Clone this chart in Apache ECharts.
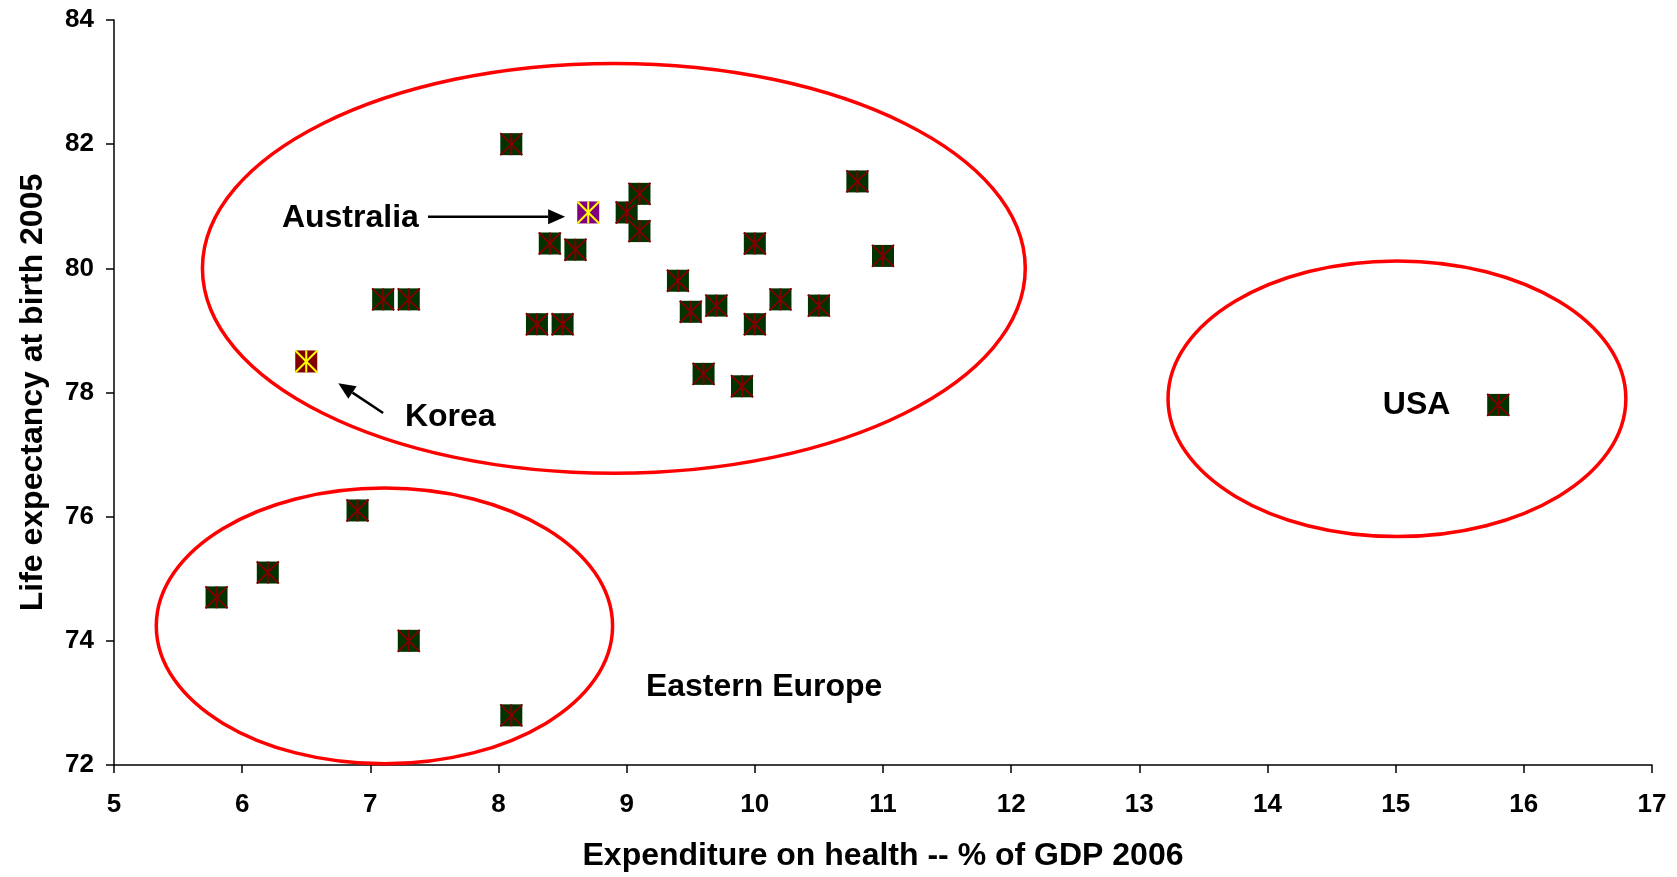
<!DOCTYPE html>
<html>
<head>
<meta charset="utf-8">
<title>Health spending vs life expectancy</title>
<script src="https://cdn.jsdelivr.net/npm/echarts@6/dist/echarts.min.js"></script>
<style>
  body { margin: 0; background: #fff; }
  #main { width: 1677px; height: 877px; }
</style>
</head>
<body>
<div id="main"></div>
<script>
// health spending (% GDP 2006) and life expectancy (2005)
var spending = [8.1, 9.0, 9.1, 9.1, 8.4, 8.6, 7.1, 7.3, 8.3, 8.5, 9.4, 9.5, 9.7, 9.6,
                10.0, 10.0, 9.9, 10.2, 10.5, 10.8, 11.0, 15.8,
                5.8, 6.2, 6.9, 7.3, 8.1];
var lifeExp  = [82.0, 80.9, 81.2, 80.6, 80.4, 80.3, 79.5, 79.5, 79.1, 79.1, 79.8, 79.3, 79.4, 78.3,
                80.4, 79.1, 78.1, 79.5, 79.4, 81.4, 80.2, 77.8,
                74.7, 75.1, 76.1, 74.0, 72.8];
var australia = [8.7, 80.9];
var korea = [6.5, 78.5];

// annotations, in data units
var groupEllipses = [[8.9, 80.0, 3.21, 3.30], [7.11, 74.24, 1.78, 2.22], [15.01, 77.9, 1.786, 2.22]];
var noteText = ['Australia', 'Korea', 'USA', 'Eastern Europe'];
var noteX = [6.31, 7.27, 14.90, 9.15];
var noteY = [80.80, 77.61, 77.80, 73.26];
var arrows = [[7.45, 80.83, 8.52, 80.83], [7.10, 77.67, 6.75, 78.15]];

var xTicks = { min: 5, max: 17, interval: 1 };
var yTicks = { min: 72, max: 84, interval: 2 };

var myChart = echarts.init(document.getElementById('main'));

function markerSeries(pts, fill, star) {
  return {
    type: 'custom',
    data: pts,
    z: 5,
    renderItem: function (params, api) {
      var p = api.coord([api.value(0), api.value(1)]);
      var h = 11;
      var ls = { stroke: star, lineWidth: 2 };
      return {
        type: 'group',
        children: [
          { type: 'rect', shape: { x: p[0] - h, y: p[1] - h, width: 2 * h, height: 2 * h }, style: { fill: fill } },
          { type: 'line', shape: { x1: p[0] - h, y1: p[1] - h, x2: p[0] + h, y2: p[1] + h }, style: ls },
          { type: 'line', shape: { x1: p[0] + h, y1: p[1] - h, x2: p[0] - h, y2: p[1] + h }, style: ls },
          { type: 'line', shape: { x1: p[0], y1: p[1] - h, x2: p[0], y2: p[1] + h }, style: ls }
        ]
      };
    }
  };
}

var others = spending.map(function (v, i) { return [v, lifeExp[i]]; });

var option = {
  animation: false,
  textStyle: { fontFamily: '"Liberation Sans", Arial, sans-serif' },
  grid: { left: 114, right: 25, top: 20, bottom: 110 },
  xAxis: {
    type: 'value',
    min: xTicks.min, max: xTicks.max, interval: xTicks.interval,
    name: 'Expenditure on health -- % of GDP 2006',
    nameLocation: 'middle',
    nameGap: 75,
    nameTextStyle: { color: '#000', fontSize: 32, fontWeight: 'bold' },
    splitLine: { show: false },
    axisLine: { lineStyle: { color: '#000', width: 1.5 } },
    axisTick: { length: 8, lineStyle: { color: '#000', width: 1.5 } },
    axisLabel: { color: '#000', fontSize: 26, fontWeight: 'bold', margin: 27 }
  },
  yAxis: {
    type: 'value',
    min: yTicks.min, max: yTicks.max, interval: yTicks.interval,
    name: 'Life expectancy at birth 2005',
    nameLocation: 'middle',
    nameRotate: 90,
    nameGap: 65,
    nameTextStyle: { color: '#000', fontSize: 32, fontWeight: 'bold' },
    splitLine: { show: false },
    axisLine: { show: true, lineStyle: { color: '#000', width: 1.5 } },
    axisTick: { show: true, length: 8, lineStyle: { color: '#000', width: 1.5 } },
    axisLabel: { color: '#000', fontSize: 26, fontWeight: 'bold', margin: 20 }
  },
  series: [
    {
      // group ellipses
      type: 'custom',
      data: groupEllipses,
      z: 2,
      renderItem: function (params, api) {
        var c = api.coord([api.value(0), api.value(1)]);
        var s = api.size([api.value(2), api.value(3)]);
        return {
          type: 'ellipse',
          shape: { cx: c[0], cy: c[1], rx: s[0], ry: s[1] },
          style: { fill: 'none', stroke: '#ff0000', lineWidth: 3.5 }
        };
      }
    },
    markerSeries(others, '#003300', '#800000'),
    markerSeries([australia], '#800080', '#ffff00'),
    markerSeries([korea], '#800000', '#ffff00'),
    {
      // arrows
      type: 'custom',
      data: arrows,
      z: 6,
      renderItem: function (params, api) {
        var a = api.coord([api.value(0), api.value(1)]);
        var b = api.coord([api.value(2), api.value(3)]);
        var dx = b[0] - a[0], dy = b[1] - a[1];
        var len = Math.sqrt(dx * dx + dy * dy);
        var ux = dx / len, uy = dy / len;
        var hl = 17, hw = 7.5;
        var bx = b[0] - ux * hl, by = b[1] - uy * hl;
        return {
          type: 'group',
          children: [
            { type: 'line', shape: { x1: a[0], y1: a[1], x2: bx, y2: by }, style: { stroke: '#000', lineWidth: 2.5 } },
            { type: 'polygon', shape: { points: [[b[0], b[1]], [bx - uy * hw, by + ux * hw], [bx + uy * hw, by - ux * hw]] }, style: { fill: '#000' } }
          ]
        };
      }
    },
    {
      // text notes
      type: 'custom',
      data: noteX.map(function (v, i) { return [v, noteY[i]]; }),
      z: 6,
      renderItem: function (params, api) {
        var p = api.coord([api.value(0), api.value(1)]);
        return {
          type: 'text',
          x: p[0], y: p[1],
          style: {
            text: noteText[params.dataIndex],
            fill: '#000',
            fontSize: 32,
            fontWeight: 'bold',
            fontFamily: '"Liberation Sans", Arial, sans-serif',
            align: 'left',
            verticalAlign: 'middle'
          }
        };
      }
    }
  ]
};

myChart.setOption(option);
</script>
</body>
</html>
